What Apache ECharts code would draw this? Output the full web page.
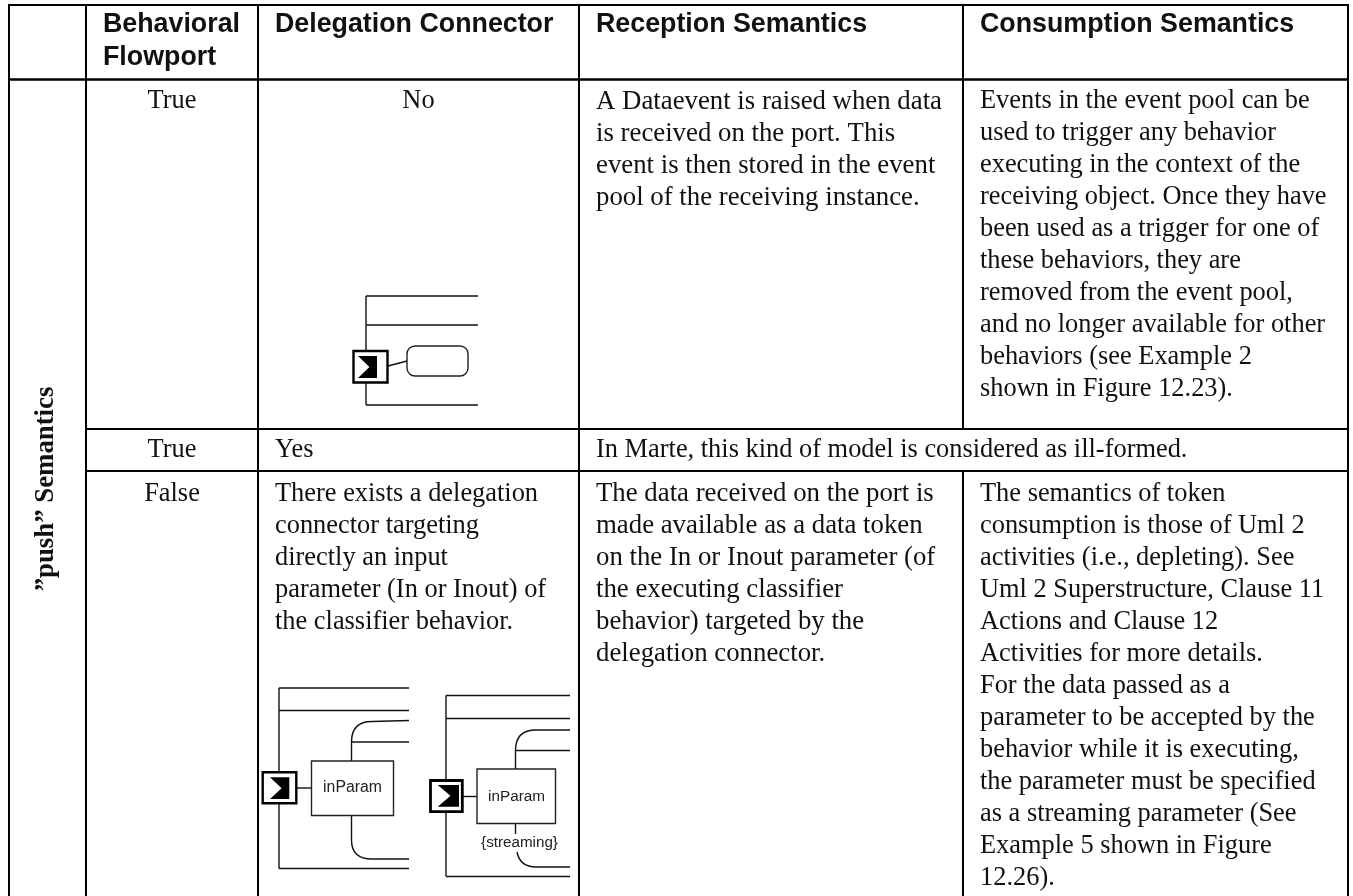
<!DOCTYPE html>
<html>
<head>
<meta charset="utf-8">
<title>push semantics table</title>
<style>
  html, body { margin: 0; padding: 0; background: #fff; }
  #chart { width: 1353px; height: 896px; }
</style>
<script src="https://cdn.jsdelivr.net/npm/echarts@6/dist/echarts.min.js"></script>
</head>
<body>
<div id="chart"></div>
<script>
// table text
var headers = [
  ['Behavioral', 'Flowport'],
  ['Delegation Connector'],
  ['Reception Semantics'],
  ['Consumption Semantics']
];
var spineLabel = '”push” Semantics';
var flowportValues = ['True', 'True', 'False'];
var connectorRow1 = ['No'];
var connectorRow2 = ['Yes'];
var connectorRow3 = [
  'There exists a delegation',
  'connector targeting',
  'directly an input',
  'parameter (In or Inout) of',
  'the classifier behavior.'
];
var receptionRow1 = [
  'A Dataevent is raised when data',
  'is received on the port. This',
  'event is then stored in the event',
  'pool of the receiving instance.'
];
var receptionRow2 = ['In Marte, this kind of model is considered as ill-formed.'];
var receptionRow3 = [
  'The data received on the port is',
  'made available as a data token',
  'on the In or Inout parameter (of',
  'the executing classifier',
  'behavior) targeted by the',
  'delegation connector.'
];
var consumptionRow1 = [
  'Events in the event pool can be',
  'used to trigger any behavior',
  'executing in the context of the',
  'receiving object. Once they have',
  'been used as a trigger for one of',
  'these behaviors, they are',
  'removed from the event pool,',
  'and no longer available for other',
  'behaviors (see Example 2',
  'shown in Figure 12.23).'
];
var consumptionRow3 = [
  'The semantics of token',
  'consumption is those of Uml 2',
  'activities (i.e., depleting). See',
  'Uml 2 Superstructure, Clause 11',
  'Actions and Clause 12',
  'Activities for more details.',
  'For the data passed as a',
  'parameter to be accepted by the',
  'behavior while it is executing,',
  'the parameter must be specified',
  'as a streaming parameter (See',
  'Example 5 shown in Figure',
  '12.26).'
];
var paramLabel = 'inParam';
var streamLabel = '{streaming}';

// layout, in picture pixels (the hidden axes run 0..1353 and 0..896)
var colEdges = [9, 86, 258, 579, 963, 1348];
var rowEdges = [5, 79.5, 429, 471, 910];
var firstLineY = [25, 101.5, 450, 494.3];
var padX = 17;
var bodyPitch = 32;
var headPitch = 33;
var bodyFont = '26.4px "Liberation Serif"';
var wideFont = '26.8px "Liberation Serif"';
var headFont = 'bold 26.8px "Liberation Sans"';
var spineFont = 'bold 26.8px "Liberation Serif"';

// col start, col end, row start, row end, lines, kind
var cells = [
  [0, 1, 0, 1, [], 'head'],
  [1, 2, 0, 1, headers[0], 'head'],
  [2, 3, 0, 1, headers[1], 'head'],
  [3, 4, 0, 1, headers[2], 'head'],
  [4, 5, 0, 1, headers[3], 'head'],
  [0, 1, 1, 4, [], 'spine'],
  [1, 2, 1, 2, [flowportValues[0]], 'center'],
  [2, 3, 1, 2, connectorRow1, 'center'],
  [3, 4, 1, 2, receptionRow1, 'wide'],
  [4, 5, 1, 2, consumptionRow1, 'body'],
  [1, 2, 2, 3, [flowportValues[1]], 'center'],
  [2, 3, 2, 3, connectorRow2, 'body'],
  [3, 5, 2, 3, receptionRow2, 'body'],
  [1, 2, 3, 4, [flowportValues[2]], 'center'],
  [2, 3, 3, 4, connectorRow3, 'body'],
  [3, 4, 3, 4, receptionRow3, 'wide'],
  [4, 5, 3, 4, consumptionRow3, 'body']
];

function renderCell(params, api) {
  var cell = cells[params.dataIndex];
  var x0 = colEdges[cell[0]], x1 = colEdges[cell[1]];
  var y0 = rowEdges[cell[2]], y1 = rowEdges[cell[3]];
  var tl = api.coord([x0, y0]), br = api.coord([x1, y1]);
  var kids = [{
    type: 'rect',
    shape: { x: tl[0], y: tl[1], width: br[0] - tl[0], height: br[1] - tl[1] },
    style: { fill: null, stroke: '#000', lineWidth: 2 }
  }];
  var kind = cell[5];
  if (kind === 'spine') {
    var c = api.coord([46, 489]);
    kids.push({
      type: 'text', x: c[0], y: c[1], rotation: Math.PI / 2,
      style: { text: spineLabel, font: spineFont, fill: '#111', align: 'center', verticalAlign: 'middle' }
    });
  }
  cell[4].forEach(function (line, i) {
    var isHead = kind === 'head';
    var px = kind === 'center' ? (x0 + x1) / 2 : x0 + padX;
    var py = firstLineY[cell[2]] + i * (isHead ? headPitch : bodyPitch);
    var p = api.coord([px, py]);
    kids.push({
      type: 'text', x: p[0], y: p[1],
      style: {
        text: line, font: isHead ? headFont : (kind === 'wide' ? wideFont : bodyFont), fill: '#111',
        align: kind === 'center' ? 'center' : 'left', verticalAlign: 'middle'
      }
    });
  });
  return { type: 'group', children: kids };
}

// little port drawings inside the connector column
function portGlyph(api, box, glyph, thick) {
  var p = function (x, y) { return api.coord([x, y]); };
  var a = p(box[0], box[1]), b = p(box[2], box[3]);
  var notch = glyph[0] + (glyph[2] - glyph[0]) * 0.6;
  return [{
    type: 'rect',
    shape: { x: a[0], y: a[1], width: b[0] - a[0], height: b[1] - a[1] },
    style: { fill: '#fff', stroke: '#000', lineWidth: thick }
  }, {
    type: 'polygon',
    shape: {
      points: [
        p(glyph[0], glyph[1]), p(glyph[2], glyph[1]), p(glyph[2], glyph[3]),
        p(glyph[0], glyph[3]), p(notch, (glyph[1] + glyph[3]) / 2)
      ]
    },
    style: { fill: '#000' }
  }];
}

function seg(api, x1, y1, x2, y2) {
  var a = api.coord([x1, y1]), b = api.coord([x2, y2]);
  return { type: 'line', shape: { x1: a[0], y1: a[1], x2: b[0], y2: b[1] }, style: { stroke: '#111', lineWidth: 1.4 } };
}

function curve(api, x1, y1, cx, cy, x2, y2) {
  var a = api.coord([x1, y1]), c = api.coord([cx, cy]), b = api.coord([x2, y2]);
  return {
    type: 'bezierCurve',
    shape: { x1: a[0], y1: a[1], cpx1: c[0], cpy1: c[1], x2: b[0], y2: b[1] },
    style: { stroke: '#111', lineWidth: 1.4, fill: null }
  };
}

function frame(api, left, top, second, bottom, right) {
  return [
    seg(api, left, top, right, top),
    seg(api, left, second, right, second),
    seg(api, left, bottom, right, bottom),
    seg(api, left, top, left, bottom)
  ];
}

function labelAt(api, text, x, y, size) {
  var p = api.coord([x, y]);
  return {
    type: 'text', x: p[0], y: p[1],
    style: { text: text, font: size + 'px "Liberation Sans"', fill: '#222', align: 'center', verticalAlign: 'middle' }
  };
}

function boxAt(api, x0, y0, x1, y1, r) {
  var a = api.coord([x0, y0]), b = api.coord([x1, y1]);
  return {
    type: 'rect',
    shape: { x: a[0], y: a[1], width: b[0] - a[0], height: b[1] - a[1], r: r || 0 },
    style: { fill: '#fff', stroke: '#222', lineWidth: 1.4 }
  };
}

function renderDiagram(params, api) {
  var kids = [];
  if (params.dataIndex === 0) {
    kids = kids.concat(frame(api, 366, 296, 325, 405, 478));
    kids.push(seg(api, 388, 366, 407, 361));
    kids.push(boxAt(api, 407, 346, 468, 376, 8));
    kids = kids.concat(portGlyph(api, [353.5, 351, 387.5, 382.5], [358, 356, 377, 378], 2.4));
  } else if (params.dataIndex === 1) {
    kids = kids.concat(frame(api, 279, 688, 710.5, 868.5, 409));
    kids.push(seg(api, 351.5, 761, 351.5, 742));
    kids.push(curve(api, 351.5, 742, 351.5, 721.5, 372, 721.5));
    kids.push(seg(api, 372, 721.5, 409, 720.5));
    kids.push(seg(api, 351.5, 742, 409, 742));
    kids.push(seg(api, 351.5, 816, 351.5, 840));
    kids.push(curve(api, 351.5, 840, 351.5, 859, 372, 859));
    kids.push(seg(api, 372, 859, 409, 859));
    kids.push(seg(api, 296, 788, 311.5, 788));
    kids.push(boxAt(api, 311.5, 761, 393.5, 815.5));
    kids.push(labelAt(api, paramLabel, 352.5, 788, 15.8));
    kids = kids.concat(portGlyph(api, [262.7, 772.3, 296.3, 803.3], [270, 777.3, 289.3, 799], 2.4));
  } else {
    kids = kids.concat(frame(api, 446, 695.5, 718.5, 876.5, 570));
    kids.push(seg(api, 515.5, 769, 515.5, 750.5));
    kids.push(curve(api, 515.5, 750.5, 515.5, 730, 536, 730));
    kids.push(seg(api, 536, 730, 570, 730));
    kids.push(seg(api, 515.5, 750.5, 570, 750.5));
    kids.push(seg(api, 515.5, 824, 515.5, 834));
    kids.push(curve(api, 517, 852, 520, 867, 536, 867));
    kids.push(seg(api, 536, 867, 570, 867));
    kids.push(seg(api, 462, 796.5, 477, 796.5));
    kids.push(boxAt(api, 477, 769, 555.5, 823.5));
    kids.push(labelAt(api, paramLabel, 516.5, 796.5, 15.3));
    kids.push(labelAt(api, streamLabel, 519.5, 842.5, 15.2));
    kids = kids.concat(portGlyph(api, [430.5, 780.5, 462.3, 811.7], [437.7, 785, 459, 806.7], 2.8));
  }
  return { type: 'group', children: kids };
}

var chart = echarts.init(document.getElementById('chart'));
chart.setOption({
  animation: false,
  grid: { left: 0, right: 0, top: 0, bottom: 0 },
  xAxis: { type: 'value', min: 0, max: 1353, show: false },
  yAxis: { type: 'value', min: 0, max: 896, inverse: true, show: false },
  series: [
    {
      type: 'custom', name: 'cells', silent: true, clip: true,
      renderItem: renderCell,
      data: cells.map(function (c, i) { return [colEdges[c[0]], rowEdges[c[2]], i]; })
    },
    {
      type: 'custom', name: 'diagrams', silent: true, clip: true,
      renderItem: renderDiagram,
      data: [[366, 296], [279, 688], [446, 696]]
    }
  ]
});
</script>
</body>
</html>
